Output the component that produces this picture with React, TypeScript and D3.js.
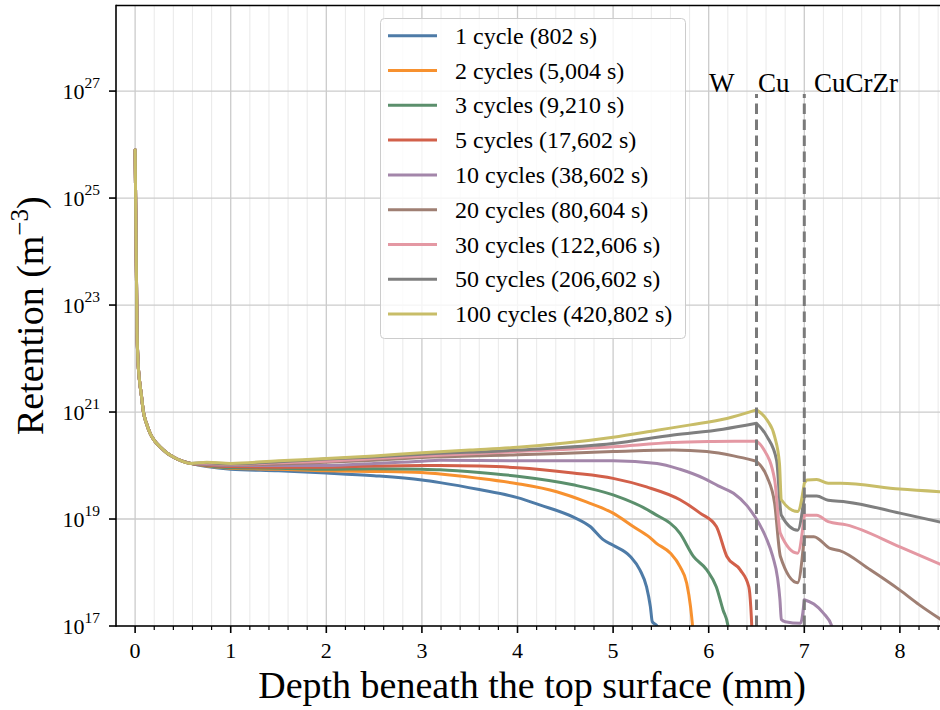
import React from 'react';
import * as d3 from 'd3';

// axis ticks
const depthTicks = [0, 1, 2, 3, 4, 5, 6, 7, 8];
const retentionExps = [17, 19, 21, 23, 25, 27];

const seriesLabels = [
  '1 cycle (802 s)',
  '2 cycles (5,004 s)',
  '3 cycles (9,210 s)',
  '5 cycles (17,602 s)',
  '10 cycles (38,602 s)',
  '20 cycles (80,604 s)',
  '30 cycles (122,606 s)',
  '50 cycles (206,602 s)',
  '100 cycles (420,802 s)',
];
const seriesColors = ['#4e7ba7', '#f7912f', '#5b8f6c', '#d2604a', '#a386aa', '#9f7f73', '#e498a3', '#7f7f7f', '#c8bd68'];

// [depth (mm), log10 retention (m^-3)], all curves overlap near the surface
const nearSurface = [
  [0, 25.9], [0.02, 22.5], [0.03, 21.95], [0.045, 21.6], [0.063, 21.35], [0.087, 21.0],
  [0.12, 20.78], [0.157, 20.6], [0.2, 20.47], [0.26, 20.35], [0.33, 20.24], [0.4, 20.16],
  [0.48, 20.09], [0.58, 20.04],
];
const cycle1 = [
  [0.75, 19.98], [1.0, 19.93], [1.5, 19.9], [2.0, 19.86], [2.5, 19.81], [3.0, 19.73], [3.19, 19.68],
  [3.6, 19.55], [4.0, 19.4], [4.24, 19.26], [4.58, 19.04], [4.76, 18.86], [4.9, 18.61], [5.0, 18.51],
  [5.18, 18.3], [5.28, 18.05], [5.35, 17.73], [5.39, 17.36], [5.41, 17.08], [5.46, 17.0], [5.5, 16.5],
];
const cycle2 = [
  [0.75, 19.99], [1.0, 19.95], [1.5, 19.93], [2.0, 19.9], [2.5, 19.89], [3.0, 19.87], [3.19, 19.84],
  [3.6, 19.76], [4.0, 19.66], [4.41, 19.51], [4.72, 19.32], [5.0, 19.11], [5.21, 18.86], [5.38, 18.66],
  [5.45, 18.55], [5.6, 18.36], [5.7, 18.11], [5.77, 17.8], [5.81, 17.36], [5.83, 17.02], [5.85, 16.5],
];
const cycle3 = [
  [0.75, 20.0], [1.0, 19.96], [1.5, 19.95], [2.0, 19.93], [2.5, 19.94], [3.0, 19.93], [3.19, 19.92],
  [3.6, 19.87], [4.0, 19.8], [4.58, 19.64], [5.0, 19.45], [5.42, 19.11], [5.7, 18.73], [5.84, 18.3],
  [5.98, 18.05], [6.08, 17.73], [6.15, 17.3], [6.2, 17.02], [6.22, 16.5],
];
const cycle5 = [
  [0.75, 20.01], [1.0, 19.98], [1.5, 19.97], [2.0, 19.97], [2.5, 19.99], [3.0, 20.0], [3.19, 20.0],
  [3.6, 19.99], [4.0, 19.96], [4.58, 19.86], [5.0, 19.76], [5.35, 19.6], [5.7, 19.36], [5.91, 19.11],
  [6.08, 18.86], [6.19, 18.3], [6.33, 18.05], [6.42, 17.73], [6.44, 17.36], [6.45, 17.02], [6.46, 16.5],
];
const cycle10 = [
  [0.75, 20.02], [1.0, 20.0], [1.5, 20.0], [2.0, 20.0], [2.5, 20.04], [3.0, 20.08], [3.19, 20.1],
  [4.0, 20.09], [5.0, 20.09], [5.46, 20.04], [5.7, 19.93], [5.95, 19.76], [6.1, 19.62], [6.26, 19.48],
  [6.4, 19.25], [6.5, 19.0], [6.6, 18.65], [6.67, 18.3], [6.72, 17.9], [6.745, 17.5], [6.76, 17.12],
  [6.8, 17.08], [6.96, 17.05], [7.0, 17.49], [7.1, 17.41], [7.2, 17.24], [7.29, 16.99], [7.32, 16.8],
];
const cycle20 = [
  [0.75, 20.03], [1.0, 20.01], [1.5, 20.03], [2.0, 20.06], [2.5, 20.1], [3.0, 20.15], [4.0, 20.2],
  [5.0, 20.26], [5.63, 20.29], [5.98, 20.26], [6.26, 20.18], [6.5, 20.08], [6.61, 19.79], [6.69, 19.29],
  [6.75, 18.3], [6.93, 17.81], [7.0, 18.67], [7.1, 18.67], [7.27, 18.45], [7.37, 18.41], [7.69, 18.05],
  [8.0, 17.67], [8.2, 17.4], [8.43, 17.12],
];
const cycle30 = [
  [0.75, 20.04], [1.0, 20.02], [1.5, 20.05], [2.0, 20.08], [2.5, 20.13], [3.0, 20.18], [4.0, 20.26],
  [5.0, 20.35], [5.63, 20.43], [6.0, 20.45], [6.5, 20.46], [6.57, 20.32], [6.69, 19.73], [6.75, 18.73],
  [6.93, 18.36], [7.0, 19.07], [7.13, 19.07], [7.25, 18.95], [7.44, 18.89], [8.0, 18.48], [8.43, 18.15],
];
const cycle50 = [
  [0.75, 20.05], [1.0, 20.03], [1.5, 20.07], [2.0, 20.12], [2.5, 20.16], [3.0, 20.21], [4.0, 20.29],
  [5.0, 20.41], [5.63, 20.57], [6.15, 20.68], [6.5, 20.79], [6.61, 20.54], [6.71, 20.1], [6.76, 19.07],
  [6.93, 18.79], [7.0, 19.43], [7.13, 19.43], [7.25, 19.35], [7.44, 19.32], [8.0, 19.11], [8.43, 18.94],
];
const cycle100 = [
  [0.75, 20.06], [1.0, 20.04], [1.5, 20.09], [2.0, 20.13], [2.5, 20.18], [3.0, 20.24], [3.5, 20.29],
  [4.0, 20.34], [4.5, 20.42], [5.0, 20.53], [5.46, 20.66], [5.81, 20.76], [6.19, 20.88], [6.5, 21.04],
  [6.61, 20.85], [6.69, 20.54], [6.74, 20.04], [6.76, 19.36], [6.93, 19.14], [7.0, 19.67], [7.03, 19.73],
  [7.13, 19.74], [7.25, 19.67], [7.38, 19.67], [8.0, 19.56], [8.43, 19.51],
];
const seriesData = [cycle1, cycle2, cycle3, cycle5, cycle10, cycle20, cycle30, cycle50, cycle100];

// material interfaces
const interfaces = [6.5, 7.0];
const materialLabels = [
  { text: 'W', x: 709 },
  { text: 'Cu', x: 758 },
  { text: 'CuCrZr', x: 814 },
];

const W = 940;
const H = 710;
const left = 116;
const right = 941;
const top = 5.5;
const bottom = 626;

const App = () => {
  const x = d3.scaleLinear().domain([-0.2, 8.43]).range([left, right]);
  const y = d3.scaleLog().domain([1e17, Math.pow(10, 28.6)]).range([bottom, top]);

  const line = d3.line<number[]>()
    .x(d => x(d[0]))
    .y(d => y(Math.pow(10, d[1])))
    .curve(d3.curveMonotoneX);

  // smooth within each material, keep the corners at the interfaces
  const curvePath = (pts: number[][]) => {
    const cuts = [-1, ...interfaces, 99];
    const parts: string[] = [];
    for (let k = 0; k < cuts.length - 1; k++) {
      const seg = pts.filter(p => p[0] >= cuts[k] - 1e-9 && p[0] <= cuts[k + 1] + 1e-9);
      if (seg.length > 1) parts.push(line(seg) || '');
    }
    return parts.join('');
  };

  const minorTicks = d3.range(1, 43).map(i => i * 0.2).filter(v => Math.abs(v - Math.round(v)) > 1e-6);

  return (
    <svg width={W} height={H} style={{ position: 'absolute', left: 0, top: 0, background: '#fff' }}
      fontFamily="'Liberation Serif', serif">
      <defs>
        <clipPath id="plot">
          <rect x={left} y={top} width={right - left} height={bottom - top} />
        </clipPath>
      </defs>
      <rect x={0} y={0} width={W} height={H} fill="#fff" />

      {/* grid */}
      {minorTicks.map(v => (
        <line key={'mg' + v} x1={x(v)} x2={x(v)} y1={top} y2={bottom} stroke="#ebebeb" strokeWidth={1.1} />
      ))}
      {depthTicks.map(v => (
        <line key={'g' + v} x1={x(v)} x2={x(v)} y1={top} y2={bottom} stroke="#cbcbcb" strokeWidth={1.3} />
      ))}
      {retentionExps.map(e => (
        <line key={'gy' + e} x1={left} x2={right} y1={y(Math.pow(10, e))} y2={y(Math.pow(10, e))} stroke="#cbcbcb" strokeWidth={1.3} />
      ))}

      {/* curves */}
      <g clipPath="url(#plot)">
        {seriesData.map((s, i) => (
          <path key={i} d={curvePath([...nearSurface, ...s])} fill="none" stroke={seriesColors[i]}
            strokeWidth={3} strokeLinejoin="round" strokeLinecap="round" />
        ))}
      </g>

      {/* interfaces */}
      {interfaces.map(v => (
        <line key={'if' + v} x1={x(v)} x2={x(v)} y1={y(1e17)} y2={y(1e27) + 3} stroke="#7a7a7a"
          strokeWidth={3} strokeDasharray="10.5 5.5" />
      ))}
      {materialLabels.map(m => (
        <text key={m.text} x={m.x} y={91.5} fontSize={27} fill="#000">{m.text}</text>
      ))}

      {/* legend */}
      <rect x={380.5} y={18.5} width={305} height={320} rx={4} fill="#fff" fillOpacity={0.8} stroke="#cccccc" strokeWidth={1} />
      {seriesLabels.map((lab, i) => {
        const ly = 35.7 + i * 34.8;
        return (
          <g key={lab}>
            <line x1={388} x2={437} y1={ly} y2={ly} stroke={seriesColors[i]} strokeWidth={3} />
            <text x={455} y={ly + 8} fontSize={24} fill="#000">{lab}</text>
          </g>
        );
      })}

      {/* spines */}
      <line x1={left} x2={right} y1={top} y2={top} stroke="#000" strokeWidth={1.6} />
      <line x1={left} x2={left} y1={top - 0.8} y2={bottom + 0.8} stroke="#000" strokeWidth={1.6} />
      <line x1={left} x2={right} y1={bottom} y2={bottom} stroke="#000" strokeWidth={1.6} />

      {/* x ticks */}
      {minorTicks.map(v => (
        <line key={'mt' + v} x1={x(v)} x2={x(v)} y1={bottom} y2={bottom + 4} stroke="#000" strokeWidth={1.2} />
      ))}
      {depthTicks.map(v => (
        <g key={'xt' + v}>
          <line x1={x(v)} x2={x(v)} y1={bottom} y2={bottom + 7} stroke="#000" strokeWidth={1.6} />
          <text x={x(v)} y={658} textAnchor="middle" fontSize={22}>{v}</text>
        </g>
      ))}

      {/* y ticks */}
      {retentionExps.map(e => {
        const py = y(Math.pow(10, e));
        return (
          <g key={'yt' + e}>
            <line x1={left - 7} x2={left} y1={py} y2={py} stroke="#000" strokeWidth={1.6} />
            <text x={100} y={py + 8} textAnchor="end" fontSize={22}>
              10<tspan fontSize={15.5} dy={-11}>{e}</tspan>
            </text>
          </g>
        );
      })}

      {/* axis labels */}
      <text x={532} y={698} textAnchor="middle" fontSize={38}>
        Depth beneath the top surface (mm)
      </text>
      <text transform={`translate(43, ${(top + bottom) / 2}) rotate(-90)`} textAnchor="middle" fontSize={38}>
        Retention (m<tspan fontSize={25} dy={-15}>−3</tspan><tspan dy={15}>)</tspan>
      </text>
    </svg>
  );
};

export default App;
